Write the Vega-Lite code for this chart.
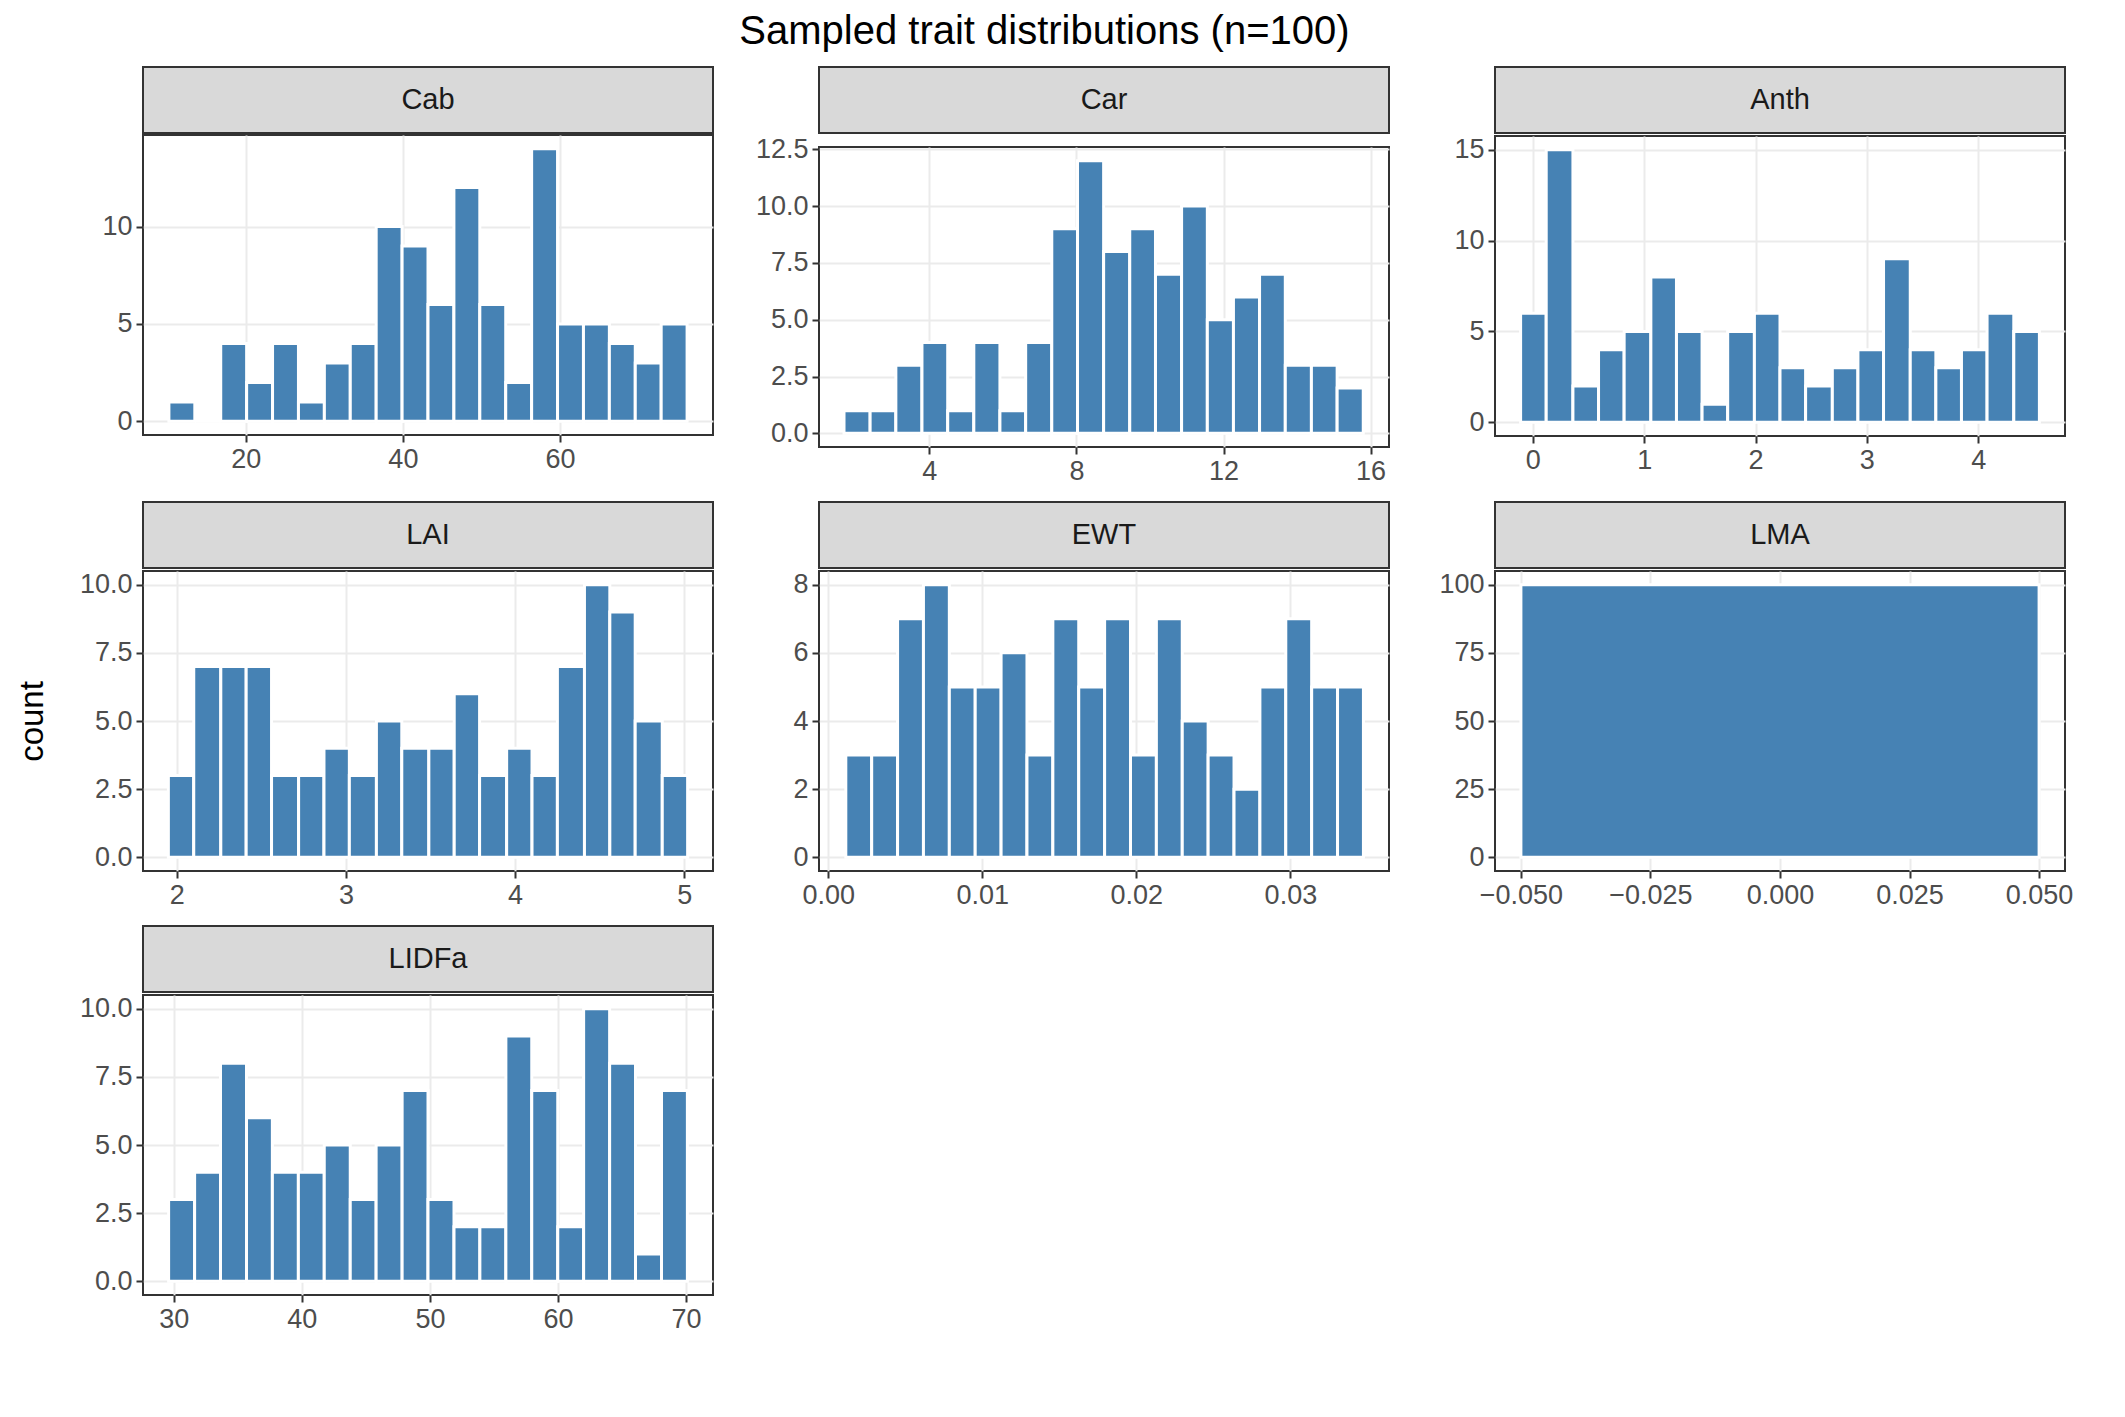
{
  "$schema": "https://vega.github.io/schema/vega-lite/v6.json",
  "title": {"text": "Sampled trait distributions (n=100)", "fontSize": 40, "fontWeight": "normal", "color": "#000", "offset": 14, "anchor": "middle"},
  "padding": {"left": 15, "top": 12, "right": 15, "bottom": 10},
  "datasets": {
    "h": [
      {"t":"Cab","a":10.2,"b":13.5,"n":1},{"t":"Cab","a":13.5,"b":16.8,"n":0},{"t":"Cab","a":16.8,"b":20.1,"n":4},{"t":"Cab","a":20.1,"b":23.4,"n":2},{"t":"Cab","a":23.4,"b":26.7,"n":4},{"t":"Cab","a":26.7,"b":30,"n":1},{"t":"Cab","a":30,"b":33.3,"n":3},{"t":"Cab","a":33.3,"b":36.6,"n":4},{"t":"Cab","a":36.6,"b":39.9,"n":10},{"t":"Cab","a":39.9,"b":43.2,"n":9},{"t":"Cab","a":43.2,"b":46.5,"n":6},{"t":"Cab","a":46.5,"b":49.8,"n":12},{"t":"Cab","a":49.8,"b":53.1,"n":6},{"t":"Cab","a":53.1,"b":56.4,"n":2},{"t":"Cab","a":56.4,"b":59.7,"n":14},{"t":"Cab","a":59.7,"b":63,"n":5},{"t":"Cab","a":63,"b":66.3,"n":5},{"t":"Cab","a":66.3,"b":69.6,"n":4},{"t":"Cab","a":69.6,"b":72.9,"n":3},{"t":"Cab","a":72.9,"b":76.2,"n":5},
      {"t":"Car","a":1.68,"b":2.39,"n":1},{"t":"Car","a":2.39,"b":3.09,"n":1},{"t":"Car","a":3.09,"b":3.8,"n":3},{"t":"Car","a":3.8,"b":4.5,"n":4},{"t":"Car","a":4.5,"b":5.21,"n":1},{"t":"Car","a":5.21,"b":5.92,"n":4},{"t":"Car","a":5.92,"b":6.62,"n":1},{"t":"Car","a":6.62,"b":7.33,"n":4},{"t":"Car","a":7.33,"b":8.03,"n":9},{"t":"Car","a":8.03,"b":8.74,"n":12},{"t":"Car","a":8.74,"b":9.45,"n":8},{"t":"Car","a":9.45,"b":10.15,"n":9},{"t":"Car","a":10.15,"b":10.86,"n":7},{"t":"Car","a":10.86,"b":11.56,"n":10},{"t":"Car","a":11.56,"b":12.27,"n":5},{"t":"Car","a":12.27,"b":12.98,"n":6},{"t":"Car","a":12.98,"b":13.68,"n":7},{"t":"Car","a":13.68,"b":14.39,"n":3},{"t":"Car","a":14.39,"b":15.09,"n":3},{"t":"Car","a":15.09,"b":15.8,"n":2},
      {"t":"Anth","a":-0.11,"b":0.12,"n":6},{"t":"Anth","a":0.12,"b":0.36,"n":15},{"t":"Anth","a":0.36,"b":0.59,"n":2},{"t":"Anth","a":0.59,"b":0.82,"n":4},{"t":"Anth","a":0.82,"b":1.06,"n":5},{"t":"Anth","a":1.06,"b":1.29,"n":8},{"t":"Anth","a":1.29,"b":1.52,"n":5},{"t":"Anth","a":1.52,"b":1.75,"n":1},{"t":"Anth","a":1.75,"b":1.99,"n":5},{"t":"Anth","a":1.99,"b":2.22,"n":6},{"t":"Anth","a":2.22,"b":2.45,"n":3},{"t":"Anth","a":2.45,"b":2.69,"n":2},{"t":"Anth","a":2.69,"b":2.92,"n":3},{"t":"Anth","a":2.92,"b":3.15,"n":4},{"t":"Anth","a":3.15,"b":3.39,"n":9},{"t":"Anth","a":3.39,"b":3.62,"n":4},{"t":"Anth","a":3.62,"b":3.85,"n":3},{"t":"Anth","a":3.85,"b":4.08,"n":4},{"t":"Anth","a":4.08,"b":4.32,"n":6},{"t":"Anth","a":4.32,"b":4.55,"n":5},
      {"t":"LAI","a":1.95,"b":2.1,"n":3},{"t":"LAI","a":2.1,"b":2.26,"n":7},{"t":"LAI","a":2.26,"b":2.41,"n":7},{"t":"LAI","a":2.41,"b":2.56,"n":7},{"t":"LAI","a":2.56,"b":2.72,"n":3},{"t":"LAI","a":2.72,"b":2.87,"n":3},{"t":"LAI","a":2.87,"b":3.02,"n":4},{"t":"LAI","a":3.02,"b":3.18,"n":3},{"t":"LAI","a":3.18,"b":3.33,"n":5},{"t":"LAI","a":3.33,"b":3.49,"n":4},{"t":"LAI","a":3.49,"b":3.64,"n":4},{"t":"LAI","a":3.64,"b":3.79,"n":6},{"t":"LAI","a":3.79,"b":3.95,"n":3},{"t":"LAI","a":3.95,"b":4.1,"n":4},{"t":"LAI","a":4.1,"b":4.25,"n":3},{"t":"LAI","a":4.25,"b":4.41,"n":7},{"t":"LAI","a":4.41,"b":4.56,"n":10},{"t":"LAI","a":4.56,"b":4.71,"n":9},{"t":"LAI","a":4.71,"b":4.87,"n":5},{"t":"LAI","a":4.87,"b":5.02,"n":3},
      {"t":"EWT","a":0.00114,"b":0.00282,"n":3},{"t":"EWT","a":0.00282,"b":0.0045,"n":3},{"t":"EWT","a":0.0045,"b":0.00618,"n":7},{"t":"EWT","a":0.00618,"b":0.00786,"n":8},{"t":"EWT","a":0.00786,"b":0.00954,"n":5},{"t":"EWT","a":0.00954,"b":0.01122,"n":5},{"t":"EWT","a":0.01122,"b":0.0129,"n":6},{"t":"EWT","a":0.0129,"b":0.01458,"n":3},{"t":"EWT","a":0.01458,"b":0.01626,"n":7},{"t":"EWT","a":0.01626,"b":0.01794,"n":5},{"t":"EWT","a":0.01794,"b":0.01962,"n":7},{"t":"EWT","a":0.01962,"b":0.0213,"n":3},{"t":"EWT","a":0.0213,"b":0.02298,"n":7},{"t":"EWT","a":0.02298,"b":0.02466,"n":4},{"t":"EWT","a":0.02466,"b":0.02634,"n":3},{"t":"EWT","a":0.02634,"b":0.02802,"n":2},{"t":"EWT","a":0.02802,"b":0.0297,"n":5},{"t":"EWT","a":0.0297,"b":0.03138,"n":7},{"t":"EWT","a":0.03138,"b":0.03306,"n":5},{"t":"EWT","a":0.03306,"b":0.03474,"n":5},
      {"t":"LMA","a":-0.05,"b":0.05,"n":100},
      {"t":"LIDFa","a":29.6,"b":31.63,"n":3},{"t":"LIDFa","a":31.63,"b":33.65,"n":4},{"t":"LIDFa","a":33.65,"b":35.68,"n":8},{"t":"LIDFa","a":35.68,"b":37.7,"n":6},{"t":"LIDFa","a":37.7,"b":39.73,"n":4},{"t":"LIDFa","a":39.73,"b":41.75,"n":4},{"t":"LIDFa","a":41.75,"b":43.78,"n":5},{"t":"LIDFa","a":43.78,"b":45.8,"n":3},{"t":"LIDFa","a":45.8,"b":47.83,"n":5},{"t":"LIDFa","a":47.83,"b":49.85,"n":7},{"t":"LIDFa","a":49.85,"b":51.88,"n":3},{"t":"LIDFa","a":51.88,"b":53.9,"n":2},{"t":"LIDFa","a":53.9,"b":55.93,"n":2},{"t":"LIDFa","a":55.93,"b":57.95,"n":9},{"t":"LIDFa","a":57.95,"b":59.98,"n":7},{"t":"LIDFa","a":59.98,"b":62,"n":2},{"t":"LIDFa","a":62,"b":64.03,"n":10},{"t":"LIDFa","a":64.03,"b":66.05,"n":8},{"t":"LIDFa","a":66.05,"b":68.08,"n":1},{"t":"LIDFa","a":68.08,"b":70.1,"n":7}
    ]
  },
  "vconcat": [
    {"hconcat": [
      {"spacing": 0, "vconcat": [
        {"width": 570, "height": 66, "data": {"values": [{"s": "Cab"}]}, "mark": {"type": "text", "fontSize": 29, "color": "#1a1a1a"}, "encoding": {"text": {"field": "s"}}, "view": {"fill": "#d9d9d9", "stroke": "#333", "strokeWidth": 2}},
        {"width": 570, "height": 300, "data": {"name": "h"}, "transform": [{"filter": "datum.t == 'Cab'"}], "mark": {"type": "bar", "fill": "#4682b4", "stroke": "white", "strokeWidth": 3},
         "encoding": {"x": {"field": "a", "type": "quantitative", "scale": {"domain": [6.9, 79.5], "nice": false, "zero": false}, "axis": {"title": null, "values": [20, 40, 60]}}, "x2": {"field": "b"},
           "y": {"field": "n", "type": "quantitative", "scale": {"domain": [-0.7, 14.7], "nice": false}, "axis": {"title": " ", "values": [0, 5, 10]}}, "y2": {"datum": 0}}}
      ]},
      {"spacing": 0, "vconcat": [
        {"width": 570, "height": 66, "data": {"values": [{"s": "Car"}]}, "mark": {"type": "text", "fontSize": 29, "color": "#1a1a1a"}, "encoding": {"text": {"field": "s"}}, "view": {"fill": "#d9d9d9", "stroke": "#333", "strokeWidth": 2}},
        {"width": 570, "height": 300, "data": {"name": "h"}, "transform": [{"filter": "datum.t == 'Car'"}], "mark": {"type": "bar", "fill": "#4682b4", "stroke": "white", "strokeWidth": 3},
         "encoding": {"x": {"field": "a", "type": "quantitative", "scale": {"domain": [1, 16.5], "nice": false, "zero": false}, "axis": {"title": null, "values": [4, 8, 12, 16]}}, "x2": {"field": "b"},
           "y": {"field": "n", "type": "quantitative", "scale": {"domain": [-0.6, 12.6], "nice": false}, "axis": {"title": null, "values": [0, 2.5, 5, 7.5, 10, 12.5], "format": ".1f"}}, "y2": {"datum": 0}}}
      ]},
      {"spacing": 0, "vconcat": [
        {"width": 570, "height": 66, "data": {"values": [{"s": "Anth"}]}, "mark": {"type": "text", "fontSize": 29, "color": "#1a1a1a"}, "encoding": {"text": {"field": "s"}}, "view": {"fill": "#d9d9d9", "stroke": "#333", "strokeWidth": 2}},
        {"width": 570, "height": 300, "data": {"name": "h"}, "transform": [{"filter": "datum.t == 'Anth'"}], "mark": {"type": "bar", "fill": "#4682b4", "stroke": "white", "strokeWidth": 3},
         "encoding": {"x": {"field": "a", "type": "quantitative", "scale": {"domain": [-0.34, 4.78], "nice": false, "zero": false}, "axis": {"title": null, "values": [0, 1, 2, 3, 4]}}, "x2": {"field": "b"},
           "y": {"field": "n", "type": "quantitative", "scale": {"domain": [-0.75, 15.75], "nice": false}, "axis": {"title": null, "values": [0, 5, 10, 15]}}, "y2": {"datum": 0}}}
      ]}
    ]},
    {"hconcat": [
      {"spacing": 0, "vconcat": [
        {"width": 570, "height": 66, "data": {"values": [{"s": "LAI"}]}, "mark": {"type": "text", "fontSize": 29, "color": "#1a1a1a"}, "encoding": {"text": {"field": "s"}}, "view": {"fill": "#d9d9d9", "stroke": "#333", "strokeWidth": 2}},
        {"width": 570, "height": 300, "data": {"name": "h"}, "transform": [{"filter": "datum.t == 'LAI'"}], "mark": {"type": "bar", "fill": "#4682b4", "stroke": "white", "strokeWidth": 3},
         "encoding": {"x": {"field": "a", "type": "quantitative", "scale": {"domain": [1.8, 5.17], "nice": false, "zero": false}, "axis": {"title": null, "values": [2, 3, 4, 5]}}, "x2": {"field": "b"},
           "y": {"field": "n", "type": "quantitative", "scale": {"domain": [-0.5, 10.5], "nice": false}, "axis": {"title": "count", "values": [0, 2.5, 5, 7.5, 10], "format": ".1f"}}, "y2": {"datum": 0}}}
      ]},
      {"spacing": 0, "vconcat": [
        {"width": 570, "height": 66, "data": {"values": [{"s": "EWT"}]}, "mark": {"type": "text", "fontSize": 29, "color": "#1a1a1a"}, "encoding": {"text": {"field": "s"}}, "view": {"fill": "#d9d9d9", "stroke": "#333", "strokeWidth": 2}},
        {"width": 570, "height": 300, "data": {"name": "h"}, "transform": [{"filter": "datum.t == 'EWT'"}], "mark": {"type": "bar", "fill": "#4682b4", "stroke": "white", "strokeWidth": 3},
         "encoding": {"x": {"field": "a", "type": "quantitative", "scale": {"domain": [-0.0006, 0.0364], "nice": false, "zero": false}, "axis": {"title": null, "values": [0, 0.01, 0.02, 0.03], "format": ".2f"}}, "x2": {"field": "b"},
           "y": {"field": "n", "type": "quantitative", "scale": {"domain": [-0.4, 8.4], "nice": false}, "axis": {"title": null, "values": [0, 2, 4, 6, 8]}}, "y2": {"datum": 0}}}
      ]},
      {"spacing": 0, "vconcat": [
        {"width": 570, "height": 66, "data": {"values": [{"s": "LMA"}]}, "mark": {"type": "text", "fontSize": 29, "color": "#1a1a1a"}, "encoding": {"text": {"field": "s"}}, "view": {"fill": "#d9d9d9", "stroke": "#333", "strokeWidth": 2}},
        {"width": 570, "height": 300, "data": {"name": "h"}, "transform": [{"filter": "datum.t == 'LMA'"}], "mark": {"type": "bar", "fill": "#4682b4", "stroke": "white", "strokeWidth": 3},
         "encoding": {"x": {"field": "a", "type": "quantitative", "scale": {"domain": [-0.055, 0.055], "nice": false, "zero": false}, "axis": {"title": null, "values": [-0.05, -0.025, 0, 0.025, 0.05], "format": ".3f"}}, "x2": {"field": "b"},
           "y": {"field": "n", "type": "quantitative", "scale": {"domain": [-5, 105], "nice": false}, "axis": {"title": null, "values": [0, 25, 50, 75, 100]}}, "y2": {"datum": 0}}}
      ]}
    ]},
    {"hconcat": [
      {"spacing": 0, "vconcat": [
        {"width": 570, "height": 66, "data": {"values": [{"s": "LIDFa"}]}, "mark": {"type": "text", "fontSize": 29, "color": "#1a1a1a"}, "encoding": {"text": {"field": "s"}}, "view": {"fill": "#d9d9d9", "stroke": "#333", "strokeWidth": 2}},
        {"width": 570, "height": 300, "data": {"name": "h"}, "transform": [{"filter": "datum.t == 'LIDFa'"}], "mark": {"type": "bar", "fill": "#4682b4", "stroke": "white", "strokeWidth": 3},
         "encoding": {"x": {"field": "a", "type": "quantitative", "scale": {"domain": [27.6, 72.1], "nice": false, "zero": false}, "axis": {"title": null, "values": [30, 40, 50, 60, 70]}}, "x2": {"field": "b"},
           "y": {"field": "n", "type": "quantitative", "scale": {"domain": [-0.5, 10.5], "nice": false}, "axis": {"title": " ", "values": [0, 2.5, 5, 7.5, 10], "format": ".1f"}}, "y2": {"datum": 0}}}
      ]}
    ]}
  ],
  "spacing": 16,
  "config": {
    "font": "Liberation Sans",
    "concat": {"spacing": 22},
    "view": {"stroke": "#333", "strokeWidth": 2},
    "axis": {"domain": false, "grid": true, "gridColor": "#ebebeb", "gridWidth": 2, "tickColor": "#333", "tickSize": 7, "tickWidth": 2, "labelFontSize": 27, "labelColor": "#4d4d4d", "labelPadding": 4, "titleFontSize": 33, "titleFontWeight": "normal", "titleColor": "#000", "titlePadding": 12},
    "axisY": {"minExtent": 82, "maxExtent": 82}
  }
}
